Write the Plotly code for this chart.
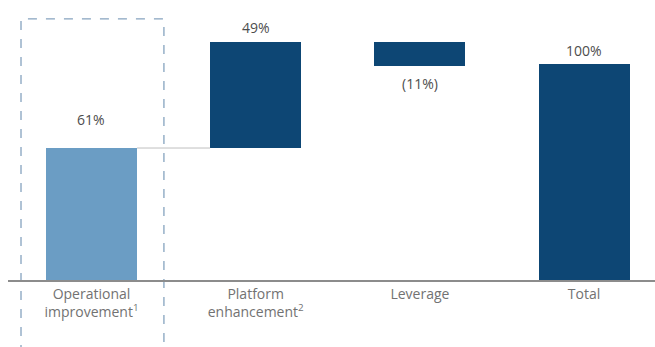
import plotly.graph_objects as go

# Return attribution by driver (percent of total)
categories = ["Operational<br>improvement<sup>1</sup>",
              "Platform<br>enhancement<sup>2</sup>",
              "Leverage",
              "Total"]
values = [61, 49, -11, 100]
value_labels = ["61%", "49%", "(11%)", "100%"]
is_total = [False, False, False, True]

LIGHT = "#6b9dc4"
DARK = "#0d4674"
bar_colors = [LIGHT, DARK, DARK, DARK]

# Build floating bars: each step starts where the previous one ended
bases, heights = [], []
running = 0
for v, tot in zip(values, is_total):
    if tot:
        bases.append(0)
        heights.append(v)
        running = v
    else:
        if v >= 0:
            bases.append(running)
            heights.append(v)
        else:
            bases.append(running + v)
            heights.append(-v)
        running += v

xs = list(range(len(categories)))

fig = go.Figure()
fig.add_trace(go.Bar(
    x=xs, y=heights, base=bases,
    marker=dict(color=bar_colors, line=dict(width=0)),
    width=0.555,
    hoverinfo="skip",
))

# Value labels: above rising bars, below falling bars
label_shift = [17, 3, -6, 2]
for x, v, b, h, t, s in zip(xs, values, bases, heights, value_labels, label_shift):
    if v >= 0:
        fig.add_annotation(x=x, y=b + h, text=t, showarrow=False,
                           yanchor="bottom", yshift=s,
                           font=dict(size=14, color="#4d4d4d", family="Open Sans"))
    else:
        fig.add_annotation(x=x, y=b, text=t, showarrow=False,
                           yanchor="top", yshift=s,
                           font=dict(size=14, color="#4d4d4d", family="Open Sans"))

# Connector from the first step into the second
fig.add_shape(type="line", xref="x", yref="y",
              x0=xs[0] + 0.555 / 2, x1=xs[1] - 0.555 / 2,
              y0=bases[0] + heights[0], y1=bases[0] + heights[0],
              line=dict(color="#bfbfbf", width=1))

# Dashed highlight box around the first driver
fig.add_shape(type="rect", xref="paper", yref="paper",
              x0=0.0201, x1=0.241, y0=-0.30, y1=0.967,
              line=dict(color="#86a3bf", width=1.3, dash="dash"),
              fillcolor="rgba(0,0,0,0)", layer="below")

fig.update_layout(
    width=655, height=347,
    margin=dict(l=8, r=0, t=10, b=67),
    paper_bgcolor="white", plot_bgcolor="white",
    showlegend=False,
    bargap=0,
    xaxis=dict(
        range=[-0.5085, 3.432],
        tickvals=xs, ticktext=categories,
        tickfont=dict(size=14, color="#727272", family="Open Sans"),
        showline=True, linecolor="#8c8c8c", linewidth=2,
        showgrid=False, zeroline=False, ticks="",
    ),
    yaxis=dict(range=[0, 124.8], visible=False, showgrid=False, zeroline=False),
)

fig.write_html("out.html")
